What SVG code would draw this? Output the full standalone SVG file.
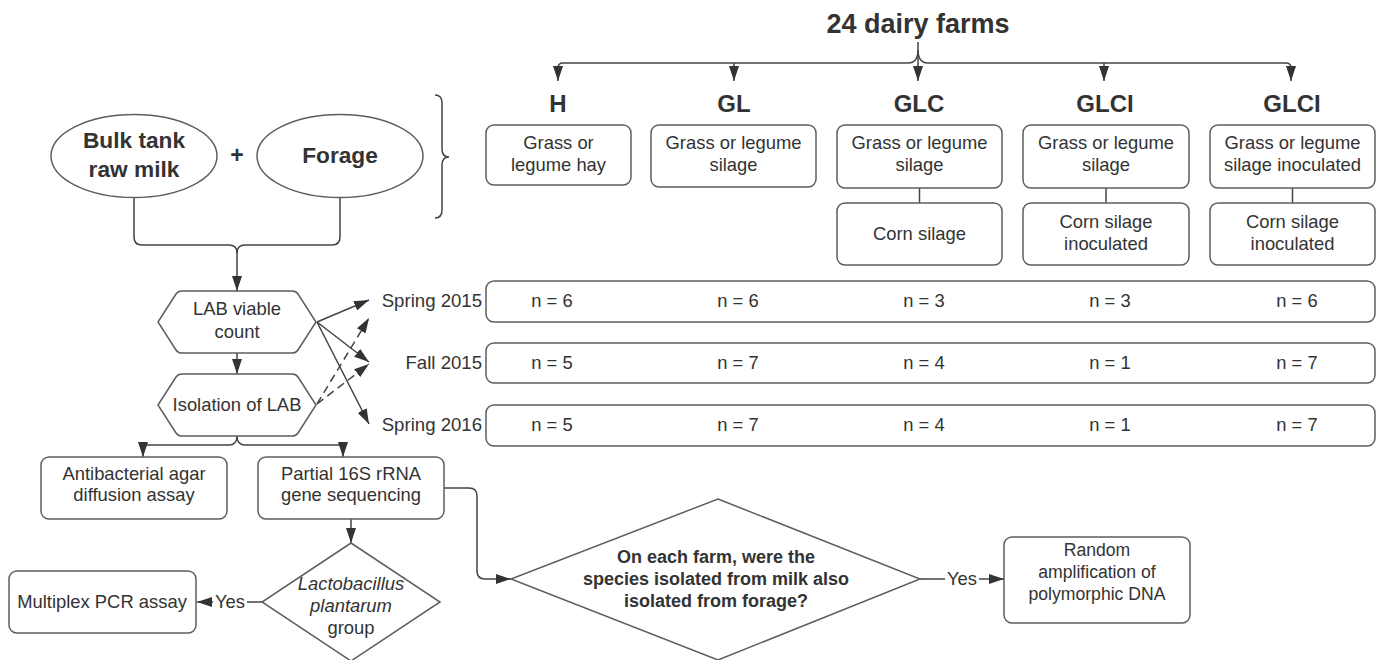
<svg xmlns="http://www.w3.org/2000/svg" width="1384" height="660" viewBox="0 0 1384 660">
<defs>
<marker id="ah" viewBox="0 0 15 10" refX="15" refY="5" markerWidth="15" markerHeight="10" markerUnits="userSpaceOnUse" orient="auto">
<path d="M0,0 L15,5 L0,10 z" fill="#333"/>
</marker>
<style>
text{font-family:"Liberation Sans",Arial,sans-serif;fill:#333;text-anchor:middle}
.box{fill:#fff;stroke:#5e5e5e;stroke-width:1.5}
.t{font-size:18.4px}
.b{font-weight:bold}
.ln{fill:none;stroke:#444;stroke-width:1.5}
.ar{fill:none;stroke:#444;stroke-width:1.5;marker-end:url(#ah)}
.da{fill:none;stroke:#444;stroke-width:1.5;stroke-dasharray:8,5;marker-end:url(#ah)}
.se{font-size:18.6px;text-anchor:end}
</style>
</defs>
<rect width="1384" height="660" fill="#fff"/>

<g id="connectors">
<path class="ar" d="M918,42 L918,50 Q918,63 908,63 L563,63 Q558,63 558,68 L558,81"/>
<path class="ar" d="M918,50 Q918,63 928,63 L1286,63 Q1291,63 1291,68 L1291,81"/>
<path class="ar" d="M734,63 L734,81"/>
<path class="ar" d="M1104,63 L1104,81"/>
<path class="ar" d="M918,56 L918,81"/>
<path class="ln" stroke-width="2" d="M435,95 Q442,95 442,103 L442,149 Q442,157 449,157 Q442,157 442,165 L442,210 Q442,218 435,218"/>
<path class="ln" d="M919.5,188 L919.5,203"/>
<path class="ln" d="M1106,188 L1106,203"/>
<path class="ln" d="M1292.5,188 L1292.5,203"/>
<path class="ln" d="M134,198 L134,237 Q134,245 142,245 L229,245 Q237,245 237,253"/>
<path class="ar" d="M340,198 L340,237 Q340,245 332,245 L245,245 Q237,245 237,253 L237,291"/>
<path class="ar" d="M237,353 L237,374"/>
<path class="ar" d="M317,322 L369,300"/>
<path class="ar" d="M317,322 L369,362"/>
<path class="ar" d="M317,322 L369,424"/>
<path class="da" d="M317,404 L369,318"/>
<path class="da" d="M317,404 L369,364"/>
<path class="ar" d="M237,436 Q237,445 229,445 L148,445 Q143,445 143,450 L143,457"/>
<path class="ar" d="M237,436 Q237,445 245,445 L338,445 Q343,445 343,450 L343,457"/>
<path class="ar" d="M351,519 L351,543"/>
<path class="ar" d="M444,488 L469,488 Q477,488 477,496 L477,571 Q477,579 485,579 L511,579"/>
<path class="ln" d="M262,602 L247,602"/>
<path class="ar" d="M213,602 L197,602"/>
<path class="ln" d="M920,579 L945,579"/>
<path class="ar" d="M979,579 L1004,579"/>
</g>

<g id="title"><text x="918" y="33" class="b" font-size="27">24 dairy farms</text></g>

<g id="labels">
<text x="558" y="112" class="b" font-size="24">H</text>
<text x="734" y="112" class="b" font-size="24">GL</text>
<text x="919" y="112" class="b" font-size="24">GLC</text>
<text x="1105" y="112" class="b" font-size="24">GLCI</text>
<text x="1292" y="112" class="b" font-size="24">GLCI</text>
</g>

<g id="h-box"><rect class="box" x="486" y="125" width="145" height="60" rx="8"/>
<text class="t" x="558.5" y="149">Grass or</text><text class="t" x="558.5" y="171">legume hay</text></g>
<g id="gl-box"><rect class="box" x="651" y="125" width="165" height="62" rx="8"/>
<text class="t" x="733.5" y="149">Grass or legume</text><text class="t" x="733.5" y="171">silage</text></g>
<g id="glc-box"><rect class="box" x="837" y="125" width="165" height="63" rx="8"/>
<text class="t" x="919.5" y="149">Grass or legume</text><text class="t" x="919.5" y="171">silage</text></g>
<g id="glci-box"><rect class="box" x="1023" y="125" width="166" height="63" rx="8"/>
<text class="t" x="1106" y="149">Grass or legume</text><text class="t" x="1106" y="171">silage</text></g>
<g id="glci2-box"><rect class="box" x="1210" y="125" width="165" height="63" rx="8"/>
<text class="t" x="1292.5" y="149">Grass or legume</text><text class="t" x="1292.5" y="171">silage inoculated</text></g>
<g id="glc-corn"><rect class="box" x="837" y="203" width="165" height="62" rx="8"/>
<text class="t" x="919.5" y="240">Corn silage</text></g>
<g id="glci-corn"><rect class="box" x="1023" y="203" width="166" height="62" rx="8"/>
<text class="t" x="1106" y="228">Corn silage</text><text class="t" x="1106" y="250">inoculated</text></g>
<g id="glci2-corn"><rect class="box" x="1210" y="203" width="165" height="62" rx="8"/>
<text class="t" x="1292.5" y="228">Corn silage</text><text class="t" x="1292.5" y="250">inoculated</text></g>

<g id="milk"><ellipse class="box" cx="134" cy="156" rx="83" ry="41.5"/>
<text x="134" y="148" class="b" font-size="22.7">Bulk tank</text><text x="134" y="177" class="b" font-size="22.7">raw milk</text></g>
<g id="plus"><text x="237" y="163" class="b" font-size="23">+</text></g>
<g id="forage"><ellipse class="box" cx="340" cy="156" rx="83" ry="41.5"/>
<text x="340" y="163" class="b" font-size="22.7">Forage</text></g>

<g id="lab-count"><path class="box" d="M158,322 L176,294 Q178,291 182,291 L292,291 Q296,291 298,294 L316,322 L298,350 Q296,353 292,353 L182,353 Q178,353 176,350 Z"/>
<text class="t" x="237" y="315">LAB viable</text><text class="t" x="237" y="338">count</text></g>
<g id="isolation"><path class="box" d="M158,405 L176,377 Q178,374 182,374 L292,374 Q296,374 298,377 L316,405 L298,433 Q296,436 292,436 L182,436 Q178,436 176,433 Z"/>
<text class="t" x="237" y="411">Isolation of LAB</text></g>

<g id="seasons">
<text class="se" x="482" y="307">Spring 2015</text>
<text class="se" x="482" y="369">Fall 2015</text>
<text class="se" x="482" y="431">Spring 2016</text>
</g>
<g id="row-spring2015"><rect class="box" x="486" y="281" width="889" height="41" rx="8"/>
<text class="t" x="552" y="307">n = 6</text><text class="t" x="738" y="307">n = 6</text><text class="t" x="924" y="307">n = 3</text><text class="t" x="1110" y="307">n = 3</text><text class="t" x="1297" y="307">n = 6</text></g>
<g id="row-fall2015"><rect class="box" x="486" y="343" width="889" height="40" rx="8"/>
<text class="t" x="552" y="369">n = 5</text><text class="t" x="738" y="369">n = 7</text><text class="t" x="924" y="369">n = 4</text><text class="t" x="1110" y="369">n = 1</text><text class="t" x="1297" y="369">n = 7</text></g>
<g id="row-spring2016"><rect class="box" x="486" y="405" width="889" height="41" rx="8"/>
<text class="t" x="552" y="431">n = 5</text><text class="t" x="738" y="431">n = 7</text><text class="t" x="924" y="431">n = 4</text><text class="t" x="1110" y="431">n = 1</text><text class="t" x="1297" y="431">n = 7</text></g>

<g id="antibacterial"><rect class="box" x="41" y="457" width="186" height="62" rx="8"/>
<text class="t" x="134" y="480">Antibacterial agar</text><text class="t" x="134" y="501">diffusion assay</text></g>
<g id="partial"><rect class="box" x="258" y="457" width="186" height="62" rx="8"/>
<text class="t" x="351" y="480">Partial 16S rRNA</text><text class="t" x="351" y="501">gene sequencing</text></g>

<g id="lacto"><path class="box" d="M351,543 L440,602 L351,661 L262,602 Z"/>
<text class="t" x="351" y="590" font-style="italic">Lactobacillus</text><text class="t" x="351" y="612" font-style="italic">plantarum</text><text class="t" x="351" y="634">group</text></g>
<g id="multiplex"><rect class="box" x="9" y="571" width="187" height="62" rx="8"/>
<text class="t" x="102" y="608">Multiplex PCR assay</text></g>
<g id="yes1"><text class="t" x="230" y="608">Yes</text></g>

<g id="question"><path class="box" d="M718,499 L920,579 L718,660 L511,579 Z"/>
<text x="716" y="563" class="b" font-size="18">On each farm, were the</text>
<text x="716" y="585" class="b" font-size="18">species isolated from milk also</text>
<text x="716" y="607" class="b" font-size="18">isolated from forage?</text></g>
<g id="yes2"><text class="t" x="962" y="585">Yes</text></g>
<g id="rapd"><rect class="box" x="1004" y="537" width="186" height="86" rx="8"/>
<text x="1097" y="556" font-size="17.6">Random</text><text x="1097" y="578" font-size="17.6">amplification of</text><text x="1097" y="600" font-size="17.6">polymorphic DNA</text></g>
</svg>
